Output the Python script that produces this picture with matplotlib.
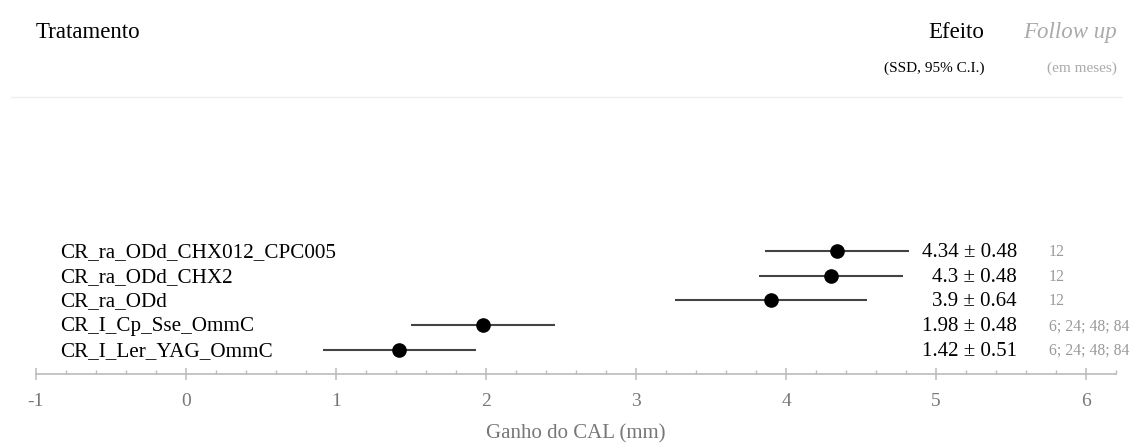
import matplotlib
matplotlib.use("Agg")
import matplotlib.pyplot as plt
from matplotlib.lines import Line2D
import numpy as np

plt.rcParams['font.family'] = ['Liberation Serif', 'DejaVu Serif']

# data, top row first
treatments = ["CR_ra_ODd_CHX012_CPC005", "CR_ra_ODd_CHX2", "CR_ra_ODd",
              "CR_I_Cp_Sse_OmmC", "CR_I_Ler_YAG_OmmC"]
effects = [4.34, 4.3, 3.9, 1.98, 1.42]
ci = [0.48, 0.48, 0.64, 0.48, 0.51]
followup = ["12", "12", "12", "6; 24; 48; 84", "6; 24; 48; 84"]
xticks = [-1, 0, 1, 2, 3, 4, 5, 6]

W, H = 1133, 444
fig = plt.figure(figsize=(W / 100, H / 100), dpi=100)
ax = fig.add_axes([36 / W, 70 / H, 1080 / W, 277 / H])

n = len(treatments)
ypos = np.arange(n)[::-1]  # top row gets highest y

ax.hlines(ypos, np.array(effects) - np.array(ci), np.array(effects) + np.array(ci),
          color="#444444", lw=1.5, zorder=2)
ax.plot(effects, ypos, "o", color="black", ms=9.5, zorder=3)

ax.set_xlim(-1, 6.2)
ax.set_ylim(-0.97, 10.22)

for y, name, e, c, f in zip(ypos, treatments, effects, ci, followup):
    ax.text(-0.84, y - 0.06, name, ha="left", va="center", fontsize=15.2, clip_on=False)
    ax.text(5.54, y - 0.06, f"{e:g} \u00b1 {c:g}", ha="right", va="center", fontsize=15,
            clip_on=False)
    ax.text(5.753, y - 0.04, f, ha="left", va="center", fontsize=11.3, color="#999999",
            clip_on=False)

# headers
ax.text(-1, 12.83, "Tratamento", ha="left", va="center", fontsize=16.5, clip_on=False)
ax.text(5.32, 12.83, "Efeito", ha="right", va="center", fontsize=16.5, clip_on=False)
ax.text(6.207, 12.83, "Follow up", ha="right", va="center", fontsize=16.5,
        style="italic", color="#aaaaaa", clip_on=False)
ax.text(5.32, 11.40, "(SSD, 95% C.I.)", ha="right", va="center", fontsize=11, clip_on=False)
ax.text(6.207, 11.40, "(em meses)", ha="right", va="center", fontsize=11,
        color="#aaaaaa", clip_on=False)
fig.add_artist(Line2D([11 / W, 1122 / W], [1 - 97 / H, 1 - 97 / H],
                      transform=fig.transFigure, color="#eeeeee", lw=1))

for s in ["top", "left", "right"]:
    ax.spines[s].set_visible(False)
ax.spines["bottom"].set_color("#bbbbbb")
ax.spines["bottom"].set_linewidth(1.2)
ax.set_yticks([])
ax.set_xticks(xticks)
ax.set_xticklabels([str(t) for t in xticks])
ax.set_xticks(np.arange(-1, 6.21, 0.2), minor=True)
ax.tick_params(axis="x", which="major", direction="inout", length=8, width=1.1,
               color="#bbbbbb", labelcolor="#777777", labelsize=14, pad=10)
ax.tick_params(axis="x", which="minor", direction="in", length=3, width=1,
               color="#bbbbbb")
ax.set_xlabel("Ganho do CAL (mm)", fontsize=15, color="#777777", labelpad=10)

fig.savefig("out.png", dpi=100)
